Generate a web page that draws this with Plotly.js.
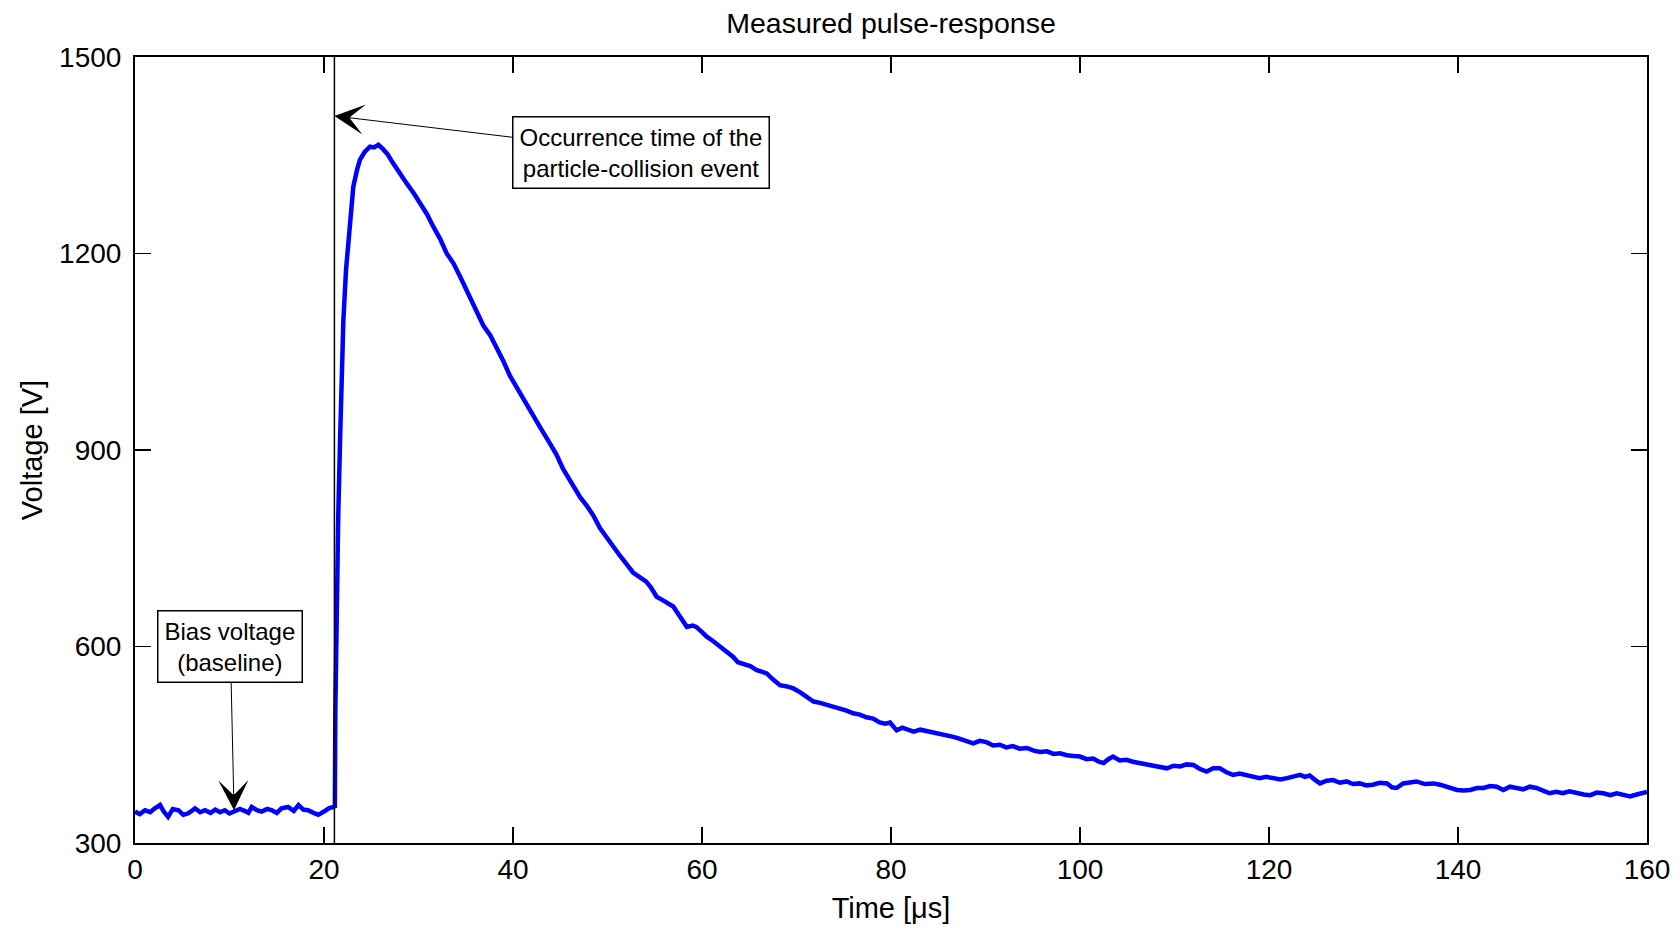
<!DOCTYPE html>
<html>
<head>
<meta charset="utf-8">
<script src="https://cdn.plot.ly/plotly-3.0.1.min.js"></script>
<style>html,body{margin:0;padding:0;background:#fff;}#chart{width:1680px;height:931px;}</style>
</head>
<body>
<div id="chart"></div>
<script>
// Time axis (µs)
const timeUs = [
 0,0.5,1.06,1.6,2.1,2.65,3.0,3.5,4.0,4.6,5.1,5.6,6.0,6.35,6.9,7.4,8.0,8.5,9.0,9.5,10.0,10.6,11.1,11.6,12.0,12.35,12.9,13.4,14.0,14.5,15.0,15.5,16.2,16.8,17.3,17.8,18.3,18.9,19.4,20.0,20.5,21.0,
 21.15,21.2,21.3,21.4,21.5,21.7,21.87,22.05,22.33,22.75,23.1,23.5,23.8,24.3,24.87,25.3,25.75,26.2,26.7,27.3,28.0,28.75,29.5,30.16,30.9,31.57,32.3,32.98,33.7,34.4,35.1,35.8,36.3,36.86,37.6,38.27,39.0,39.68,40.4,41.1,42.0,42.86,43.9,44.6,45.3,46.2,47.1,47.8,48.5,49.2,49.9,50.6,51.3,52.0,52.7,53.4,54.1,54.6,55.2,55.7,56.3,56.96,57.7,58.4,59.0,59.4,60.0,60.5,61.2,61.9,62.6,63.3,63.8,64.4,65.1,65.8,66.3,66.85,67.5,68.25,69.0,69.66,70.4,71.08,71.8,72.5,73.2,73.9,74.6,75.3,76.0,76.7,77.4,78.1,78.8,79.4,79.9,80.6,81.2,81.7,82.4,83.1,83.8,84.5,85.2,85.9,86.6,87.3,88.0,88.7,89.4,90.1,90.8,91.5,92.2,92.9,93.6,94.4,95.1,95.8,96.5,97.2,97.9,98.6,99.3,100.0,100.7,101.4,102.0,102.5,103.0,103.5,104.2,104.9,105.6,106.3,107.0,107.8,108.5,109.2,109.9,110.6,111.3,112.0,112.7,113.4,114.1,114.8,115.5,116.2,116.9,117.6,118.3,119.0,119.7,120.5,121.2,121.9,122.6,123.3,123.8,124.3,124.9,125.4,126.1,126.8,127.5,128.2,128.9,129.6,130.3,131.0,131.7,132.5,133.0,133.5,134.2,134.9,135.6,136.5,137.4,138.1,138.8,139.4,139.9,140.6,141.3,142.0,142.7,143.4,144.1,144.8,145.5,146.2,146.9,147.6,148.3,149.0,149.7,150.4,151.1,151.8,152.6,153.3,154.0,154.7,155.4,156.1,156.8,157.5,158.2,158.9,159.6,160.0
];
// Measured voltage (V)
const voltageV = [
 348,344,350,347,353,358,349,340,352,350,343,345,349,353,347,350,346,351,347,350,345,348,352,349,346,355,350,348,352,350,346,353,355,349,358,351,350,346,343,348,353,355,
 356,500,650,740,795,915,1022,1098,1175,1251,1302,1328,1343,1355,1363,1362,1366,1360,1352,1338,1322,1307,1292,1277,1260,1241,1222,1200,1185,1165,1144,1124,1108,1090,1075,1057,1035,1013,995,976,955,935,910,893,871,848,828,815,800,781,766,752,739,726,713,706,699,690,676,672,666,661,645,630,632,630,622,615,608,600,593,584,576,574,570,564,562,559,550,541,539,536,530,524,516,514,511,509,506,502,498,496,492,490,484,482,484,472,476,474,470,473,471,469,466,464,462,459,455,452,456,454,449,450,446,448,444,445,441,439,440,436,437,434,433,432,428,429,424,422,428,432,426,427,424,422,419,417,416,414,418,417,420,419,413,409,414,414,408,404,406,404,401,399,401,399,397,399,402,404,401,403,396,391,395,396,392,394,390,391,388,389,392,391,385,384,391,392,394,390,391,389,386,383,381,380,381,384,384,387,386,381,386,384,382,386,384,380,376,378,376,379,376,374,373,377,376,373,376,374,371,374,377,378
];
const xTicks = [0,20,40,60,80,100,120,140,160];
const yTicks = [300,600,900,1200,1500];
const eventTime = 21.1;

const FONT = '"Liberation Sans", Arial, Helvetica, sans-serif';

const trace = {
  x: timeUs, y: voltageV, type: 'scatter', mode: 'lines',
  line: {color: '#0000ff', width: 4.5}, hoverinfo: 'skip', showlegend: false
};

const axisCommon = {
  showgrid: false, zeroline: false, showline: true, linecolor: '#000', linewidth: 2,
  mirror: 'ticks', ticks: 'inside', ticklen: 16, tickwidth: 1.5, tickcolor: '#000',
  tickfont: {family: FONT, size: 28, color: '#000'}
};

const layout = {
  width: 1680, height: 931,
  margin: {l: 135, r: 33, t: 57, b: 88},
  paper_bgcolor: '#fff', plot_bgcolor: '#fff',
  font: {family: FONT, color: '#000'},
  title: {text: 'Measured pulse-response', font: {family: FONT, size: 28.5, color: '#000'},
          x: 0.5, xref: 'paper', y: 1 - 23/931, yref: 'container', yanchor: 'middle'},
  xaxis: Object.assign({}, axisCommon, {
    range: [0, 160], tickmode: 'array', tickvals: xTicks, ticktext: xTicks.map(String),
    title: {text: 'Time [μs]', font: {family: FONT, size: 29, color: '#000'}, standoff: 14}
  }),
  yaxis: Object.assign({}, axisCommon, {
    range: [300, 1500], tickmode: 'array', tickvals: yTicks, ticktext: yTicks.map(String),
    ticklabelstandoff: 6,
    title: {text: 'Voltage [V]', font: {family: FONT, size: 29, color: '#000'}, standoff: 8}
  }),
  shapes: [{type: 'line', xref: 'x', yref: 'paper', x0: eventTime, x1: eventTime, y0: 0, y1: 1,
            line: {color: '#000', width: 1.5}}],
  annotations: [
    {text: 'Occurrence time of the<br>particle-collision event', xref: 'x', yref: 'y',
     x: eventTime, y: 1410, axref: 'x', ayref: 'y', ax: 53.5, ay: 1354,
     showarrow: true, arrowhead: 3, arrowsize: 5, arrowwidth: 1, arrowcolor: '#000',
     bordercolor: '#000', borderwidth: 1.5, borderpad: 6, bgcolor: '#fff',
     font: {family: FONT, size: 24, color: '#000'}, align: 'center'},
    {text: 'Bias voltage<br>(baseline)', xref: 'x', yref: 'y',
     x: 10.48, y: 350, axref: 'x', ayref: 'y', ax: 10.09, ay: 600,
     showarrow: true, arrowhead: 3, arrowsize: 5, arrowwidth: 1, arrowcolor: '#000',
     bordercolor: '#000', borderwidth: 1.5, borderpad: 6, bgcolor: '#fff',
     font: {family: FONT, size: 24, color: '#000'}, align: 'center'}
  ]
};

Plotly.newPlot('chart', [trace], layout, {staticPlot: true, displayModeBar: false});
</script>
</body>
</html>
